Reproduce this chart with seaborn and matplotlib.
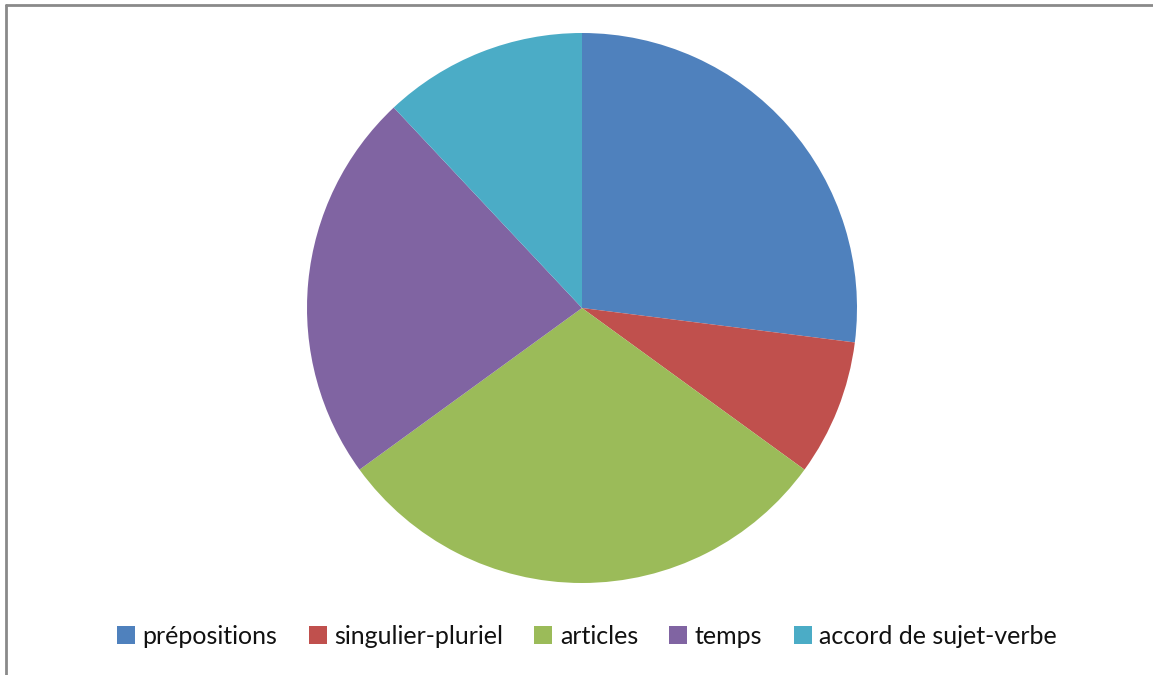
import matplotlib
matplotlib.use("Agg")
import matplotlib.pyplot as plt
from matplotlib.lines import Line2D
from matplotlib.patches import Patch
import seaborn as sns

categories = ["prépositions", "singulier-pluriel", "articles", "temps", "accord de sujet-verbe"]
values = [27, 8, 30, 23, 12]
colors = ["#4F81BD", "#C0504D", "#9BBB59", "#8064A2", "#4BACC6"]

sns.set_theme(style="white")
plt.rcParams["font.family"] = ["Lato", "DejaVu Sans"]

W, H = 1153, 675
fig = plt.figure(figsize=(W / 100, H / 100), dpi=100)
fig.patch.set_facecolor("white")

# outer chart frame (top and left edges visible)
fig.add_artist(Line2D([5.5 / W, 1.0], [1 - 4.5 / H, 1 - 4.5 / H], color="#8a8a8a", lw=2.0))
fig.add_artist(Line2D([5.5 / W, 5.5 / W], [0.0, 1 - 4.5 / H], color="#8a8a8a", lw=2.0))

cx, cy, r = 582, 308, 275
ax = fig.add_axes([(cx - r) / W, (H - cy - r) / H, 2 * r / W, 2 * r / H])
palette = sns.color_palette(colors)
ax.pie(values, colors=palette, startangle=90, counterclock=False,
       wedgeprops=dict(linewidth=0))
ax.set_xlim(-1, 1)
ax.set_ylim(-1, 1)
ax.set_aspect("equal")
ax.axis("off")

handles = [Patch(facecolor=c, edgecolor="none") for c in palette]
fig.legend(handles, categories, loc="center", bbox_to_anchor=(587 / W, 1 - 636 / H),
           ncol=5, frameon=False, fontsize=18, handlelength=0.72, handleheight=0.72,
           handletextpad=0.3, columnspacing=1.25, labelcolor="#111111")

fig.savefig("out.png", dpi=100, facecolor="white")
